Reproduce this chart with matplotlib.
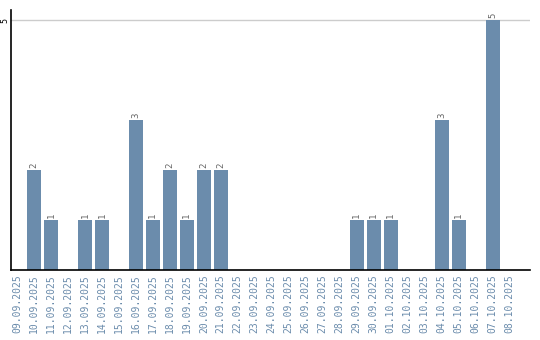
import matplotlib
matplotlib.use('Agg')
import matplotlib.pyplot as plt
import numpy as np

dates = ['09.09.2025', '10.09.2025', '11.09.2025', '12.09.2025', '13.09.2025',
         '14.09.2025', '15.09.2025', '16.09.2025', '17.09.2025', '18.09.2025',
         '19.09.2025', '20.09.2025', '21.09.2025', '22.09.2025', '23.09.2025',
         '24.09.2025', '25.09.2025', '26.09.2025', '27.09.2025', '28.09.2025',
         '29.09.2025', '30.09.2025', '01.10.2025', '02.10.2025', '03.10.2025',
         '04.10.2025', '05.10.2025', '06.10.2025', '07.10.2025', '08.10.2025']
counts = [0, 2, 1, 0, 1, 1, 0, 3, 1, 2, 1, 2, 2, 0, 0,
          0, 0, 0, 0, 0, 1, 1, 1, 0, 0, 3, 1, 0, 5, 0]
yticks = [5]

bar_color = '#6b8cac'
font = 'DejaVu Sans Mono'

fig = plt.figure(figsize=(5.4, 3.4), dpi=100)
ax = fig.add_axes([11/540, 70/340, 519/540, 260/340])

x = np.arange(len(dates))
bars = ax.bar(x, counts, width=0.82, color=bar_color, zorder=2)

# value labels above non-empty bars
for xi, c in zip(x, counts):
    if c > 0:
        ax.text(xi, c + 0.04, str(c), rotation=90, ha='center', va='bottom',
                fontsize=6.5, color='#666666', family=font)

ax.set_xlim(-0.35, 30.2)
ax.set_ylim(0, 5.2)
ax.set_xticks(x)
ax.set_xticklabels(dates, rotation=90, fontsize=7, color='#6b8cac', family=font)
ax.set_yticks(yticks)
ax.set_yticklabels([str(v) for v in yticks], rotation=90, fontsize=6,
                   family=font, va='center')
ax.tick_params(axis='x', length=0, pad=3)
ax.tick_params(axis='y', length=0, pad=1.5)
ax.grid(axis='y', color='#cccccc', linewidth=1, zorder=0)

for s in ['top', 'right']:
    ax.spines[s].set_visible(False)
ax.spines['left'].set_linewidth(1.2)
ax.spines['bottom'].set_linewidth(1.2)

fig.savefig('out.png', dpi=100)
